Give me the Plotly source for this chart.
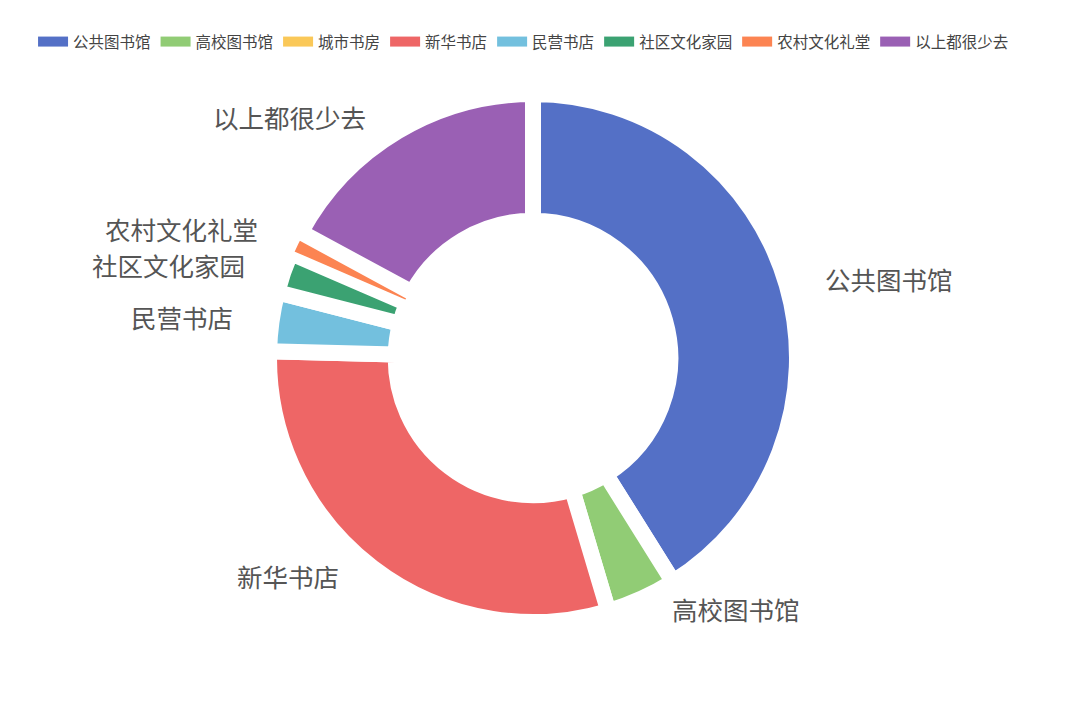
import math

import plotly.graph_objects as go

# 读书场所调查：各类场所占比（%），按图例顺序
places = ["公共图书馆", "高校图书馆", "城市书房", "新华书店",
          "民营书店", "社区文化家园", "农村文化礼堂", "以上都很少去"]
shares = [41.1, 4.3, 0, 30.0, 3.6, 2.5, 1.4, 17.1]
colors = ["#5470c6", "#91cc75", "#fac858", "#ee6666",
          "#73c0de", "#3ba272", "#fc8452", "#9a60b4"]

CJK = "Noto Sans CJK SC, Noto Sans, sans-serif"

# plot area in px (fixed margins, no autoexpand)
W, H = 1080, 706
ML, MR, MT, MB = 0, 30, 86, 92
PW, PH = W - ML - MR, H - MT - MB
R_LABEL = 278   # px from centre to the label anchor
LABEL_PAD = 23  # px from anchor to text
LABEL_GAP = 36  # min vertical distance between labels on one side

fig = go.Figure()
fig.add_trace(
    go.Pie(
        labels=places,
        values=shares,
        sort=False,
        direction="clockwise",
        rotation=0,
        hole=0.52,
        marker=dict(
            colors=colors,
            line=dict(color="#ffffff",
                      width=[6 if v < 2 else 16 for v in shares]),
        ),
        textinfo="none",
        hoverinfo="label+percent",
        showlegend=False,
    )
)

# outside labels, ECharts style (no leader lines)
total = sum(shares)
acc = 0.0
labels = []
for p, v in zip(places, shares):
    if v <= 0:
        continue
    theta = math.radians((acc + v / 2) / total * 360)
    acc += v
    side = 1 if math.sin(theta) >= 0 else -1
    dx = R_LABEL * math.sin(theta) + side * LABEL_PAD
    dy = R_LABEL * math.cos(theta) + 3  # px, up is positive
    labels.append([p, side, dx, dy])

# push apart labels that sit too close on the same side
for side in (1, -1):
    group = sorted([lb for lb in labels if lb[1] == side], key=lambda lb: lb[3])
    for lo, hi in zip(group, group[1:]):
        if hi[3] - lo[3] < LABEL_GAP:
            hi[3] = lo[3] + LABEL_GAP

for p, side, dx, dy in labels:
    fig.add_annotation(
        x=0.5 + dx / PW, y=0.5 + dy / PH,
        xref="paper", yref="paper",
        text=p, showarrow=False,
        xanchor="left" if side > 0 else "right", yanchor="middle",
        font=dict(family=CJK, size=25.5, color="#555555"),
    )

# legend entries as wide colour bars
for p, c in zip(places, colors):
    fig.add_trace(go.Scatter(x=[None], y=[None], mode="lines", name=p,
                             line=dict(color=c, width=10), hoverinfo="skip"))

fig.update_layout(
    width=W,
    height=H,
    margin=dict(l=ML, r=MR, t=MT, b=MB, autoexpand=False),
    paper_bgcolor="#ffffff",
    plot_bgcolor="rgba(0,0,0,0)",
    font=dict(family=CJK, color="#333333"),
    xaxis=dict(visible=False),
    yaxis=dict(visible=False),
    legend=dict(
        orientation="h",
        x=0.491,
        xanchor="center",
        y=1 + (MT - 34) / PH,
        yanchor="middle",
        font=dict(size=15.5, color="#444444"),
        itemclick=False,
    ),
)

fig.write_html("out.html")
